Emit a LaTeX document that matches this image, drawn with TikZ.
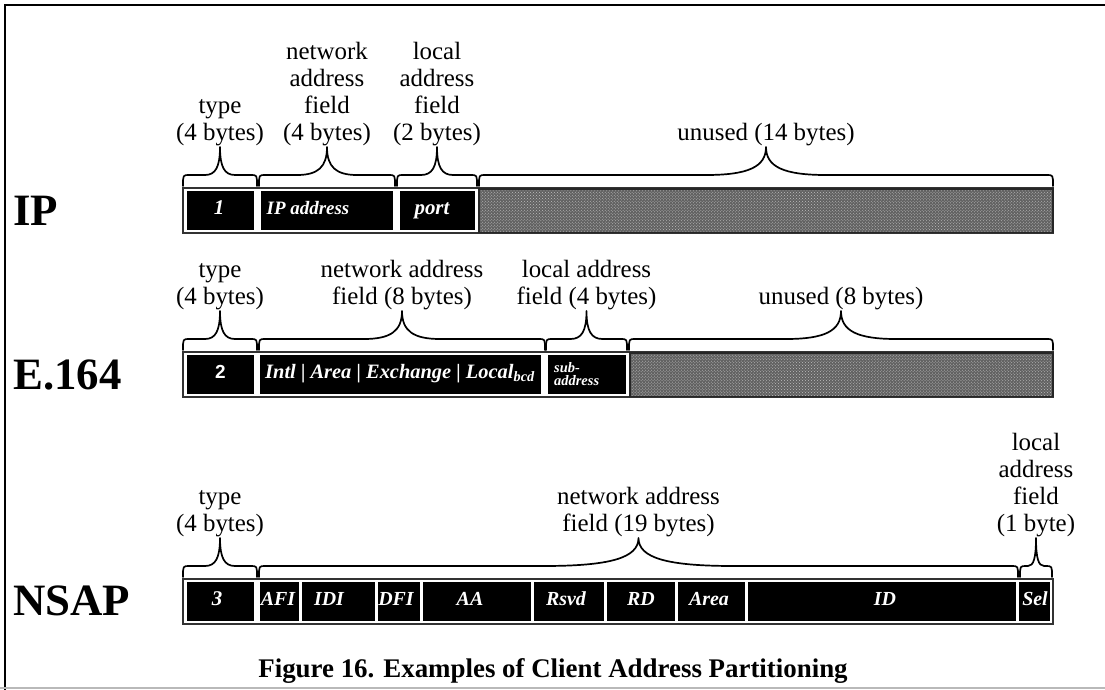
\documentclass[tikz,border=0pt]{standalone}
\usepackage{fontspec}
\setmainfont{Liberation Serif}
\newfontfamily\digitsans{Liberation Sans}
\usetikzlibrary{patterns}

% a curly brace over a field: x1, x2, y of the brace line, half width of the tip curve, name of the tip
\newcommand\fieldbrace[5]{%
  \pgfmathsetmacro\bmid{(#1+#2)/2}%
  \draw[bracepath] (#1,#3+11) .. controls (#1,#3) .. (#1+6,#3)
     -- (\bmid-#4,#3) .. controls (\bmid-0.3*#4,#3) and (\bmid,#3-8) .. (\bmid,#3-28)
     .. controls (\bmid,#3-8) and (\bmid+0.3*#4,#3) .. (\bmid+#4,#3)
     -- (#2-6,#3) .. controls (#2,#3) .. (#2,#3+11);
  \coordinate (#5) at (\bmid,#3-28);
}
% a black field cell: [label style] x1, x2, y1, y2, x of its label, name, label
\newcommand\fieldcell[8][celltext]{%
  \fill[cell] (#2,#4) rectangle (#3,#5);
  \node[#1] (#7) at (#6,{(#4+#5)/2+2}) {#8};
}
% gray, speckled area of the unused bytes: x1, y1, x2, y2
\newcommand\unusedarea[4]{%
  \fill[black!62] (#1,#2) rectangle (#3,#4);
  \fill[pattern=crosshatch dots, pattern color=gray!50] (#1,#2) rectangle (#3,#4);
  \draw[black!85, line width=1.8bp] (#1,#2) rectangle (#3,#4);
}

\begin{document}
\begin{tikzpicture}[x=1bp,y=-1bp,
  note/.style={font=\fontsize{25}{27}\selectfont, align=center, anchor=south, inner sep=1bp},
  rowlabel/.style={font=\fontsize{45}{45}\selectfont\bfseries, anchor=west, inner sep=0pt},
  celltext/.style={font=\fontsize{19}{19}\selectfont\bfseries\itshape, text=white, inner sep=0pt, anchor=mid},
  nsaptext/.style={font=\fontsize{20}{20}\selectfont\bfseries\itshape, text=white, inner sep=0pt, anchor=mid},
  cell/.style={fill=black},
  shell/.style={draw=black!80, line width=1.2bp},
  bracepath/.style={line width=1.7bp, line cap=round, line join=round},
  frameline/.style={line width=2.6bp},
]
\useasboundingbox (0,0) rectangle (1105,690);

% page frame
\draw[frameline] (5,690) -- (5,5) -- (1105,5);
\draw[gray!55, line width=1.2bp] (0,688) -- (1105,688);

%% ---------------- IP ----------------
\node[rowlabel] (ipLabel) at (13,211) {IP};
\draw[shell] (183,188) rectangle (1053,233);
\fieldcell[celltext, font=\fontsize{21}{21}\selectfont\bfseries\itshape]{187}{254}{191}{230}{219}{ipType}{1}
\fieldcell{261}{393}{191}{230}{308}{ipAddr}{IP address}
\fieldcell[celltext, font=\fontsize{21}{21}\selectfont\bfseries\itshape]{400}{475}{191}{230}{432}{ipPort}{port}
\unusedarea{479}{189}{1053}{232.5}

\fieldbrace{183}{257}{175}{15}{ipTypeTip}
\fieldbrace{259}{395}{175}{30}{ipNetTip}
\fieldbrace{397}{477}{175}{16}{ipLocTip}
\fieldbrace{479}{1053}{175}{60}{ipUnTip}
\node[note] (ipTypeTxt) at (ipTypeTip) {type\\(4 bytes)};
\node[note] (ipNetTxt) at (ipNetTip) {network\\address\\field\\(4 bytes)};
\node[note] (ipLocTxt) at (ipLocTip) {local\\address\\field\\(2 bytes)};
\node[note] (ipUnTxt) at (ipUnTip) {unused (14 bytes)};

%% ---------------- E.164 ----------------
\node[rowlabel] (eLabel) at (13,375) {E.164};
\draw[shell] (183,352) rectangle (1053,397);
\fill[cell] (187,355) rectangle (254,394);
\node[font=\fontsize{19}{19}\selectfont\digitsans\bfseries, text=white, anchor=mid] (eType) at (220.5,376.5) {2};
\fieldcell[celltext, font=\fontsize{20.5}{20}\selectfont\bfseries\itshape]{260}{541}{355}{394}{400}{eNet}{Intl | Area | Exchange | Local\textsubscript{bcd}}
\fill[cell] (548,355) rectangle (626,394);
\node[font=\fontsize{14.5}{13}\selectfont\bfseries\itshape, text=white, inner sep=0pt, align=left, anchor=west] (eSub) at (554,374.5) {sub-\\address};
\unusedarea{630}{353}{1053}{396.5}

\fieldbrace{183}{257}{339}{15}{eTypeTip}
\fieldbrace{259}{545}{339}{38}{eNetTip}
\fieldbrace{546}{627}{339}{16}{eLocTip}
\fieldbrace{629}{1053}{339}{55}{eUnTip}
\node[note] (eTypeTxt) at (eTypeTip) {type\\(4 bytes)};
\node[note] (eNetTxt) at (eNetTip) {network address\\field (8 bytes)};
\node[note] (eLocTxt) at (eLocTip) {local address\\field (4 bytes)};
\node[note] (eUnTxt) at (eUnTip) {unused (8 bytes)};

%% ---------------- NSAP ----------------
\node[rowlabel] (nLabel) at (13,601) {NSAP};
\draw[shell] (183,579) rectangle (1053,624);
\fieldcell[celltext, font=\fontsize{21}{21}\selectfont\bfseries\itshape]{187}{254}{582}{621}{217}{nType}{3}
\fieldcell[nsaptext]{260}{299}{582}{621}{278}{nAFI}{AFI}
\fieldcell[nsaptext]{302}{375}{582}{621}{329}{nIDI}{IDI}
\fieldcell[nsaptext]{378}{420}{582}{621}{396}{nDFI}{DFI}
\fieldcell[nsaptext]{423}{531}{582}{621}{470}{nAA}{AA}
\fieldcell[nsaptext]{534}{604}{582}{621}{566}{nRsvd}{Rsvd}
\fieldcell[nsaptext]{607}{675}{582}{621}{641}{nRD}{RD}
\fieldcell[nsaptext]{678}{745}{582}{621}{709}{nArea}{Area}
\fieldcell[nsaptext]{748}{1016}{582}{621}{885}{nID}{ID}
\fieldcell[nsaptext]{1019}{1050}{582}{621}{1035}{nSel}{Sel}

\fieldbrace{183}{257}{566}{15}{nTypeTip}
\fieldbrace{259}{1018}{566}{95}{nNetTip}
\fieldbrace{1020}{1052}{566}{8}{nLocTip}
\node[note] (nTypeTxt) at (nTypeTip) {type\\(4 bytes)};
\node[note] (nNetTxt) at (nNetTip) {network address\\field (19 bytes)};
\node[note] (nLocTxt) at (nLocTip) {local\\address\\field\\(1 byte)};

%% caption
\node[font=\fontsize{27}{27}\selectfont\bfseries, anchor=base] (caption) at (553,677)
  {Figure 16. Examples of Client Address Partitioning};
\end{tikzpicture}
\end{document}
